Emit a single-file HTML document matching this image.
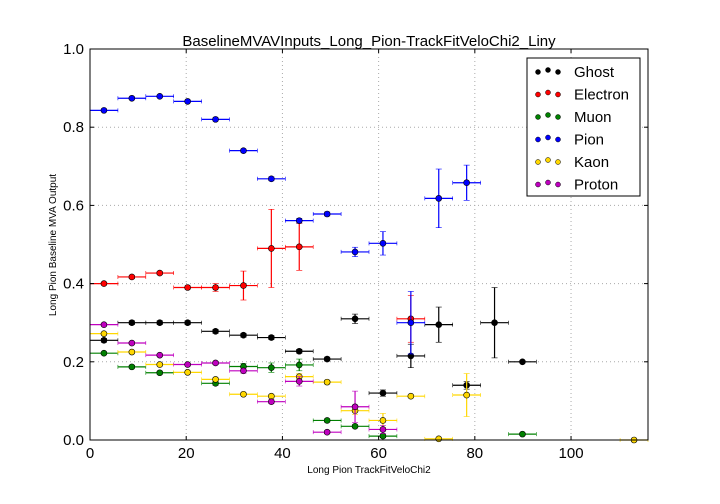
<!DOCTYPE html>
<html><head><meta charset="utf-8"><style>
body{margin:0;background:#fff;}
svg{display:block;font-family:"Liberation Sans","DejaVu Sans",sans-serif;}
</style></head><body>
<svg id="chart" width="720" height="504" viewBox="0 0 720 504">
<rect x="0" y="0" width="720" height="504" fill="#fff"/>
<g id="grid"></g>
<g id="marks"></g>
<rect x="90" y="49" width="558" height="391" fill="none" stroke="#000" stroke-width="1"/>
<g id="ticks"></g>
<text x="369" y="46" text-anchor="middle" font-size="15">BaselineMVAVInputs_Long_Pion-TrackFitVeloChi2_Liny</text>
<text x="369" y="473" text-anchor="middle" font-size="10">Long Pion TrackFitVeloChi2</text>
<text x="56" y="245" text-anchor="middle" font-size="10" transform="rotate(-90 56 245)">Long Pion Baseline MVA Output</text>
<g id="legend">
<rect x="527" y="58" width="113" height="138" fill="#fff" stroke="#000" stroke-width="1"/>
</g>
</svg>
<script>
const binCenters=[2.9,8.7,14.5,20.3,26.1,31.9,37.7,43.5,49.3,55.1,60.9,66.7,72.5,78.3,84.1,89.9,95.7,101.5,107.3,113.1];
const seriesNames=["Ghost","Electron","Muon","Pion","Kaon","Proton"];
const seriesColors=["#000000","#ff0000","#008000","#0000ff","#ffd700","#bf00bf"];
const ghostVals=[0.255,0.30,0.30,0.30,0.278,0.268,0.262,0.227,0.207,0.31,0.12,0.215,0.295,0.14,0.30,0.20,null,null,null,null];
const ghostErr=[0.005,0.005,0.005,0.005,0.005,0.005,0.005,0.005,0.005,0.012,0.008,0.03,0.045,0.01,0.09,0.003,0,0,0,0];
const electronVals=[0.40,0.417,0.427,0.39,0.39,0.395,0.49,0.494,null,null,null,0.31,null,null,null,null,null,null,null,null];
const electronErr=[0.003,0.004,0.004,0.004,0.01,0.037,0.1,0.06,0,0,0,0.06,0,0,0,0,0,0,0,0];
const muonVals=[0.222,0.187,0.172,null,0.145,0.188,0.185,0.192,0.05,0.035,0.01,null,null,null,null,0.015,null,null,null,null];
const muonErr=[0.003,0.004,0.004,0,0.005,0.008,0.012,0.015,0.004,0.004,0.004,0,0,0,0,0.003,0,0,0,0];
const pionVals=[0.843,0.874,0.879,0.866,0.82,0.74,0.668,0.561,0.578,0.481,0.503,0.30,0.618,0.658,null,null,null,null,null,null];
const pionErr=[0.003,0.003,0.003,0.003,0.004,0.004,0.005,0.006,0.005,0.012,0.03,0.08,0.075,0.045,0,0,0,0,0,0];
const kaonVals=[0.272,0.225,0.193,0.173,0.155,0.117,0.112,0.162,0.148,0.075,0.05,0.112,0.003,0.115,null,null,null,null,null,0.0];
const kaonErr=[0.003,0.003,0.003,0.003,0.004,0.004,0.005,0.008,0.005,0.01,0.018,0.004,0.003,0.055,0,0,0,0,0,0];
const protonVals=[0.295,0.248,0.217,0.193,0.197,0.177,0.098,0.15,0.02,0.085,0.027,null,null,null,null,null,null,null,null,null];
const protonErr=[0.003,0.003,0.003,0.003,0.004,0.006,0.005,0.012,0.004,0.04,0.01,0,0,0,0,0,0,0,0,0];
const xTicks=[0,20,40,60,80,100];
const yTicks=[0.0,0.2,0.4,0.6,0.8,1.0];
const binHalf=2.9;
const X0=90,X1=648,Y0=440,Y1=49,XMAX=116;
const xs=v=>X0+v/XMAX*(X1-X0);
const ys=v=>Y0-v*(Y0-Y1);
const NS="http://www.w3.org/2000/svg";
function mk(tag,attrs,parent){const e=document.createElementNS(NS,tag);for(const k in attrs)e.setAttribute(k,attrs[k]);parent.appendChild(e);return e;}
const grid=document.getElementById('grid'),ticks=document.getElementById('ticks'),marks=document.getElementById('marks'),legend=document.getElementById('legend');
xTicks.forEach(t=>{
  const x=xs(t);
  if(t>0){const g=mk('line',{x1:x,x2:x,y1:Y1,y2:Y0,stroke:'#aaa','stroke-dasharray':'1,3'},grid);
  
  }
  mk('line',{x1:x,x2:x,y1:Y0,y2:Y0-4,stroke:'#000'},ticks);
  mk('line',{x1:x,x2:x,y1:Y1,y2:Y1+4,stroke:'#000'},ticks);
  const l=mk('text',{x:x,y:Y0+18,'text-anchor':'middle','font-size':15},ticks);l.textContent=t;
  
  
});
yTicks.forEach(t=>{
  const y=ys(t);
  if(t>0&&t<1){const g=mk('line',{x1:X0,x2:X1,y1:y,y2:y,stroke:'#aaa','stroke-dasharray':'1,3'},grid);
  
  }
  mk('line',{x1:X0,x2:X0+4,y1:y,y2:y,stroke:'#000'},ticks);
  mk('line',{x1:X1,x2:X1-4,y1:y,y2:y,stroke:'#000'},ticks);
  const l=mk('text',{x:X0-6,y:y+5,'text-anchor':'end','font-size':15},ticks);l.textContent=t.toFixed(1);
  
  
});
const allVals=[ghostVals,electronVals,muonVals,pionVals,kaonVals,protonVals];
const allErr=[ghostErr,electronErr,muonErr,pionErr,kaonErr,protonErr];
allVals.forEach((vals,si)=>{
  const c=seriesColors[si];
  const g=mk('g',{},marks);
  
  
  vals.forEach((v,i)=>{
    if(v===null)return;
    const cx=xs(binCenters[i]),cy=ys(v),e=allErr[si][i];
    mk('line',{x1:xs(binCenters[i]-binHalf),x2:xs(binCenters[i]+binHalf),y1:cy,y2:cy,stroke:c,'stroke-width':1.2},g);
    mk('line',{x1:xs(binCenters[i]-binHalf),x2:xs(binCenters[i]-binHalf),y1:cy-2,y2:cy+2,stroke:c,'stroke-width':0.6},g);
    mk('line',{x1:xs(binCenters[i]+binHalf),x2:xs(binCenters[i]+binHalf),y1:cy-2,y2:cy+2,stroke:c,'stroke-width':0.6},g);
    if(e>0){
      mk('line',{x1:cx,x2:cx,y1:ys(v-e),y2:ys(v+e),stroke:c,'stroke-width':1.2},g);
      mk('line',{x1:cx-3,x2:cx+3,y1:ys(v-e),y2:ys(v-e),stroke:c,'stroke-width':0.6},g);
      mk('line',{x1:cx-3,x2:cx+3,y1:ys(v+e),y2:ys(v+e),stroke:c,'stroke-width':0.6},g);
    }
    const p=mk('circle',{cx:cx,cy:cy,r:3,fill:c,stroke:'#000','stroke-width':0.6},g);
    
    
  });
});
seriesNames.forEach((n,i)=>{
  const y=71+i*22.5;
  const g=mk('g',{},legend);
  
  
  [538,548,558].forEach((x,k)=>mk('circle',{cx:x,cy:y+(k==1?-1:1),r:2.5,fill:seriesColors[i],stroke:'#000','stroke-width':0.5},g));
  const t=mk('text',{x:574,y:y+6,'font-size':15},g);t.textContent=n;
});
</script>
</body></html>
